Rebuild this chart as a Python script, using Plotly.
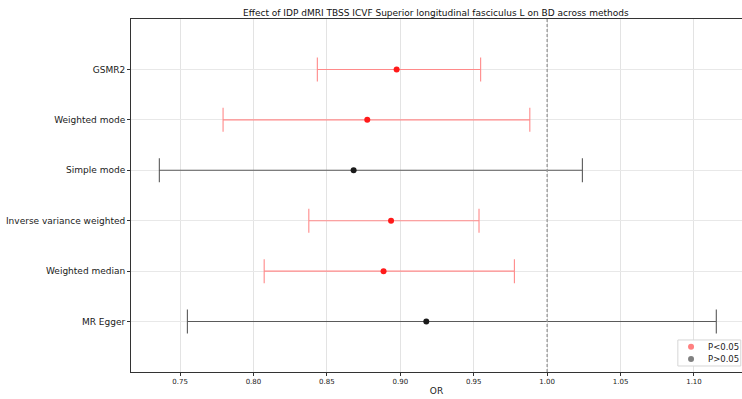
import plotly.graph_objects as go

# Mendelian randomization estimates (odds ratios with 95% CI)
methods = ["MR Egger", "Weighted median", "Inverse variance weighted",
           "Simple mode", "Weighted mode", "GSMR2"]
or_est = [0.9177, 0.8886, 0.8937, 0.8682, 0.8775, 0.8975]
ci_low = [0.7550, 0.8073, 0.8377, 0.7359, 0.7793, 0.8435]
ci_high = [1.1152, 0.9777, 0.9536, 1.0240, 0.9882, 0.9547]
significant = [False, True, True, False, True, True]

x_ticks = [0.75, 0.80, 0.85, 0.90, 0.95, 1.00, 1.05, 1.10]
legend_labels = ["P<0.05", "P>0.05"]
legend_colors = ["#ff8080", "#808080"]

fig = go.Figure()

for i, m in enumerate(methods):
    sig = significant[i]
    err_col = "#ff8a8a" if sig else "#5a5a5a"
    pt_col = "#ff1a1a" if sig else "#1a1a1a"
    fig.add_trace(go.Scatter(
        x=[or_est[i]], y=[i], mode="markers",
        marker=dict(color=pt_col, size=6),
        error_x=dict(type="data", symmetric=False,
                     array=[ci_high[i] - or_est[i]],
                     arrayminus=[or_est[i] - ci_low[i]],
                     color=err_col, thickness=1.1, width=12),
        showlegend=False, hoverinfo="x+y",
    ))

# null line at OR = 1
fig.add_shape(type="line", xref="x", yref="paper", x0=1.0, x1=1.0, y0=0, y1=1,
              line=dict(color="#999999", width=1.3, dash="3px,2px"))

# legend box (bottom right corner of the axes)
fig.add_shape(type="rect", xref="paper", yref="paper",
              x0=0.895, x1=0.998, y0=0.017, y1=0.0907,
              line=dict(color="#d6d6d6", width=1), fillcolor="rgba(255,255,255,0.9)")
for k, (lab, col) in enumerate(zip(legend_labels, legend_colors)):
    yk = 0.0717 - k * 0.0349
    fig.add_shape(type="circle", xref="paper", yref="paper",
                  xsizemode="pixel", ysizemode="pixel",
                  xanchor=0.9166, yanchor=yk, x0=-3, x1=3, y0=-3, y1=3,
                  line=dict(width=0), fillcolor=col)
    fig.add_annotation(x=0.941, y=yk, xref="paper", yref="paper",
                       text=lab, showarrow=False, xanchor="left", yanchor="middle",
                       font=dict(size=8.5, color="#222222"))

fig.update_layout(
    width=742, height=399,
    margin=dict(l=131, r=0, t=19, b=27),
    paper_bgcolor="white", plot_bgcolor="white",
    font=dict(family="DejaVu Sans", color="#222222"),
    title=dict(text="Effect of IDP dMRI TBSS ICVF Superior longitudinal fasciculus L on BD across methods",
               x=0.5874, xanchor="center", y=0.967, yanchor="middle",
               font=dict(size=9, color="#111111")),
    showlegend=False,
)

fig.update_xaxes(
    range=[0.7166, 1.1327], tickvals=x_ticks,
    ticktext=[f"{v:.2f}" for v in x_ticks],
    tickfont=dict(size=7), ticks="outside", ticklen=3, tickcolor="#333333",
    showgrid=True, gridcolor="#e3e3e3", gridwidth=1, zeroline=False,
    showline=True, linecolor="#333333", linewidth=1, mirror=True,
    title=dict(text="OR", font=dict(size=9), standoff=2),
)
fig.update_yaxes(
    range=[-1, 6], tickvals=list(range(len(methods))), ticktext=methods,
    tickfont=dict(size=9, color="#1a1a1a"), ticks="outside", ticklen=3, tickcolor="#333333",
    showgrid=True, gridcolor="#e8e8e8", gridwidth=1, zeroline=False,
    showline=True, linecolor="#333333", linewidth=1,
)

fig.write_html("out.html")
